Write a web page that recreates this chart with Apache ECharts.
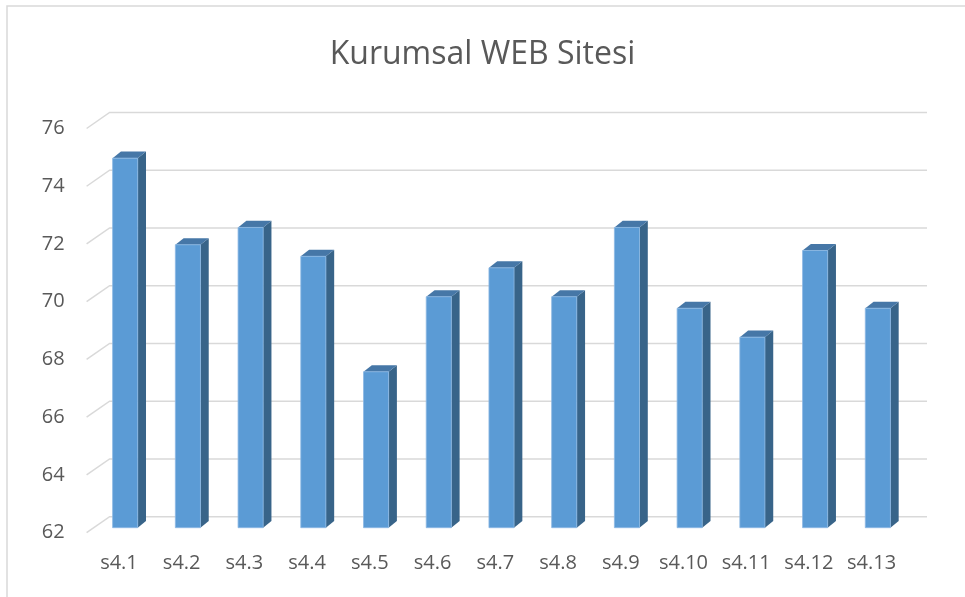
<!DOCTYPE html>
<html>
<head>
<meta charset="utf-8">
<script src="https://cdn.jsdelivr.net/npm/echarts@6/dist/echarts.min.js"></script>
<style>html,body{margin:0;padding:0;background:#fff}#c{width:965px;height:597px}</style>
</head>
<body>
<div id="c"></div>
<script>
const titleText = 'Kurumsal WEB Sitesi';
const categories = ['s4.1','s4.2','s4.3','s4.4','s4.5','s4.6','s4.7','s4.8','s4.9','s4.10','s4.11','s4.12','s4.13'];
const values = [74.8, 71.8, 72.4, 71.4, 67.4, 70.0, 71.0, 70.0, 72.4, 69.6, 68.6, 71.6, 69.6];
const yTicks = [62, 64, 66, 68, 70, 72, 74, 76];
const yMin = 62, yMax = 76, yStep = 2;

const chart = echarts.init(document.getElementById('c'), null, {renderer: 'canvas'});
const FONT = 'Open Sans';
const WALL_DX = 22, WALL_DY = -16;
const BAR_OX = 6.2, BAR_OY = -5;
const DEPTH_DX = 8.3, DEPTH_DY = -6.6;

chart.setOption({
  backgroundColor: '#ffffff',
  animation: false,
  title: {
    text: titleText, left: 'center', top: 30,
    textStyle: {fontFamily: FONT, fontSize: 32, fontWeight: 'normal', color: '#595959', lineHeight: 40}
  },
  graphic: [{
    type: 'polyline', silent: true,
    shape: {points: [[7, 597], [7, 6], [965, 6]]},
    style: {stroke: '#d9d9d9', lineWidth: 1.5, fill: null}
  }],
  grid: {left: 87.6, right: 62, top: 128.5, bottom: 64.3, containLabel: false},
  xAxis: {
    type: 'category', data: categories,
    axisLine: {show: false}, axisTick: {show: false}, splitLine: {show: false},
    axisLabel: {fontFamily: FONT, fontSize: 20, color: '#595959', margin: 21, interval: 0}
  },
  yAxis: {
    type: 'value', min: yMin, max: yMax, interval: yStep,
    axisLine: {show: false}, axisTick: {show: false}, splitLine: {show: false},
    axisLabel: {fontFamily: FONT, fontSize: 20, color: '#595959', margin: 23}
  },
  series: [{
    type: 'custom', z: 1, silent: true,
    data: yTicks.map(v => [0, v]),
    encode: {x: 0, y: 1},
    renderItem: function (params, api) {
      const cs = params.coordSys;
      const p = api.coord([api.value(0), api.value(1)]);
      const y = p[1];
      return {
        type: 'polyline',
        shape: {points: [[cs.x - 1, y], [cs.x + WALL_DX, y + WALL_DY], [cs.x + cs.width + 24, y + WALL_DY]]},
        style: {stroke: '#d9d9d9', lineWidth: 1.5, fill: null}
      };
    }
  }, {
    type: 'custom', z: 2, silent: true,
    data: values.map((v, i) => [i, v]),
    encode: {x: 0, y: 1},
    renderItem: function (params, api) {
      const i = api.value(0), v = api.value(1);
      const base = api.coord([i, yMin]);
      const top = api.coord([i, v]);
      const bw = api.size([1, 0])[0];
      const w = bw * 0.4;
      const cx = base[0] + BAR_OX;
      const x0 = cx - w / 2, x1 = cx + w / 2;
      const yb = base[1] + BAR_OY, yt = top[1] + BAR_OY;
      return {
        type: 'group',
        children: [{
          type: 'polygon',
          shape: {points: [[x1, yb], [x1, yt], [x1 + DEPTH_DX, yt + DEPTH_DY], [x1 + DEPTH_DX, yb + DEPTH_DY]]},
          style: {fill: '#386489'}
        }, {
          type: 'polygon',
          shape: {points: [[x0, yt], [x1, yt], [x1 + DEPTH_DX, yt + DEPTH_DY], [x0 + DEPTH_DX, yt + DEPTH_DY]]},
          style: {fill: '#4677a7'}
        }, {
          type: 'rect',
          shape: {x: x0, y: yt, width: w, height: yb - yt},
          style: {fill: '#5b9bd5', stroke: '#8cb8e3', lineWidth: 0.8}
        }]
      };
    }
  }]
});
</script>
</body>
</html>
